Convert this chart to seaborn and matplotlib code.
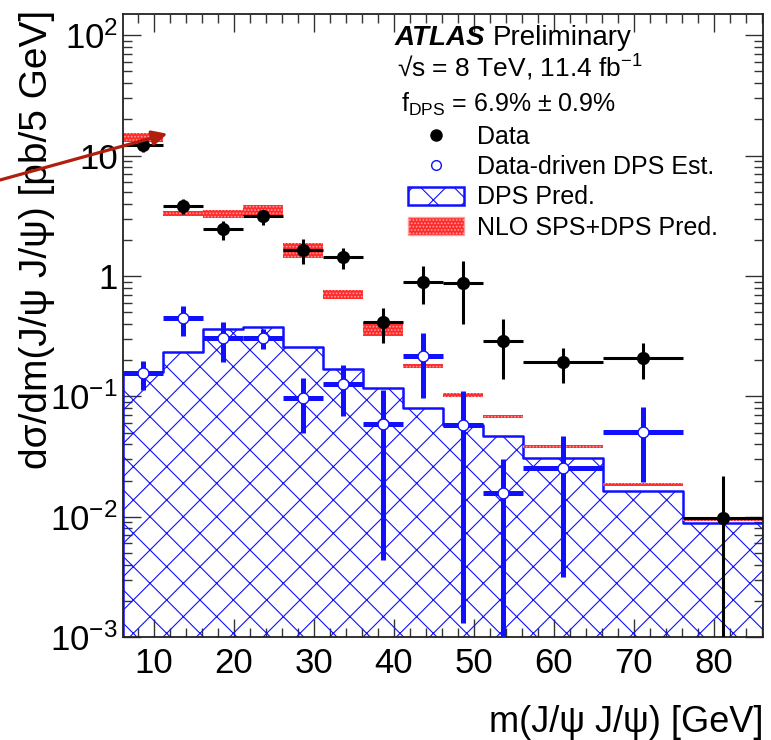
import matplotlib
matplotlib.use('Agg')
import matplotlib.pyplot as plt
import matplotlib.ticker as mticker
from matplotlib.lines import Line2D
from matplotlib.patches import Patch
import numpy as np
import seaborn as sns

# bin edges in m(J/psi J/psi) [GeV]
edges = [6.2, 11.2, 16.2, 21.2, 26.2, 31.2, 36.2, 41.2, 46.2, 51.2, 56.2, 66.2, 76.2, 86.2]

# data points
data_val = [12.2, 3.85, 2.46, 3.13, 1.66, 1.43, 0.414, 0.888, 0.878, 0.288, 0.193, 0.209, 0.00985]
data_hi = [13.1, 4.4, 2.85, 3.56, 2.03, 1.71, 0.545, 1.2, 1.33, 0.436, 0.254, 0.279, 0.0218]
data_lo = [10.8, 3.3, 2.0, 2.67, 1.25, 1.15, 0.279, 0.59, 0.403, 0.139, 0.130, 0.139, 1e-4]

# data-driven DPS estimate (no entry in last bin)
dd_val = [0.157, 0.444, 0.307, 0.307, 0.0975, 0.127, 0.0586, 0.216, 0.0574, 0.0158, 0.0253, 0.0509]
dd_hi = [0.196, 0.561, 0.414, 0.36, 0.143, 0.184, 0.114, 0.338, 0.111, 0.0304, 0.047, 0.082]
dd_lo = [0.114, 0.316, 0.193, 0.249, 0.050, 0.069, 0.0044, 0.0976, 0.0013, 1e-4, 0.00316, 0.0193]

# DPS prediction histogram
dps_pred = [0.159, 0.235, 0.36, 0.379, 0.257, 0.170, 0.118, 0.0795, 0.0574, 0.0469, 0.031, 0.0164, 0.00883]

# NLO SPS+DPS prediction band
nlo_lo = [13.1, 3.13, 3.04, 3.14, 1.41, 0.65, 0.32, 0.172, 0.0986, 0.0656, 0.037, 0.0180, 0.00923]
nlo_hi = [15.4, 3.45, 3.52, 3.92, 1.89, 0.76, 0.414, 0.185, 0.107, 0.0695, 0.0397, 0.0189, 0.00953]

ytick_vals = [1e-3, 1e-2, 1e-1, 1, 10, 100]
ytick_labels = ['$10^{-3}$', '$10^{-2}$', '$10^{-1}$', '1', '10', '$10^{2}$']
xtick_vals = [10, 20, 30, 40, 50, 60, 70, 80]

sns.set_style('ticks')
plt.rcParams['font.family'] = ['Liberation Sans', 'DejaVu Sans']
plt.rcParams['mathtext.fontset'] = 'custom'
plt.rcParams['mathtext.rm'] = 'Liberation Sans'
plt.rcParams['mathtext.it'] = 'Liberation Sans:italic'
plt.rcParams['mathtext.bf'] = 'Liberation Sans:bold'
plt.rcParams['hatch.linewidth'] = 0.8
plt.rcParams['text.color'] = 'black'
plt.rcParams['axes.labelcolor'] = 'black'
plt.rcParams['xtick.labelcolor'] = 'black'
plt.rcParams['ytick.labelcolor'] = 'black'

edges_a = np.array(edges)
centers = 0.5 * (edges_a[1:] + edges_a[:-1])
widths = np.diff(edges_a)
xerr = widths / 2

fig = plt.figure(figsize=(7.71, 7.40), dpi=100)
ax = fig.add_axes([0.160, 0.139, 0.830, 0.842])
ax.set_yscale('log')

# DPS prediction, hatched step histogram
sns.histplot(x=centers, weights=dps_pred, bins=edges, element='step', fill=True,
             color='#1010ff', facecolor='none', edgecolor='#1010ff', hatch='x',
             linewidth=1.8, ax=ax, zorder=1)

# NLO band
nlo_lo_a = np.array(nlo_lo)
nlo_hi_a = np.array(nlo_hi)
ax.bar(edges_a[:-1], nlo_hi_a - nlo_lo_a, bottom=nlo_lo_a, width=widths, align='edge',
       color='#ff2b2b', edgecolor='#ffa0a0', hatch='.....', linewidth=0, zorder=2)

# data-driven DPS estimate
ndd = len(dd_val)
dd_v = np.array(dd_val)
ax.errorbar(centers[:ndd], dd_v, xerr=xerr[:ndd],
            yerr=[dd_v - np.array(dd_lo), np.array(dd_hi) - dd_v],
            fmt='none', ecolor='#1010ff', elinewidth=3.6, capsize=0, zorder=3)
sns.scatterplot(x=centers[:ndd], y=dd_v, marker='o', s=60, facecolor='white',
                edgecolor='#1010ff', linewidth=1.0, ax=ax, zorder=4)

# data
d_v = np.array(data_val)
ax.errorbar(centers, d_v, xerr=xerr,
            yerr=[d_v - np.array(data_lo), np.array(data_hi) - d_v],
            fmt='none', ecolor='black', elinewidth=2.2, capsize=0, zorder=5)
sns.scatterplot(x=centers, y=d_v, marker='o', s=90, color='black', edgecolor='black',
                linewidth=0, ax=ax, zorder=6)

ax.set_xlim(6.2, 86.2)
ax.set_ylim(1e-3, 150)

ax.xaxis.set_major_locator(mticker.FixedLocator(xtick_vals))
ax.xaxis.set_minor_locator(mticker.MultipleLocator(2))
ax.yaxis.set_major_locator(mticker.FixedLocator(ytick_vals))
ax.yaxis.set_major_formatter(mticker.FixedFormatter(ytick_labels))
ax.yaxis.set_minor_locator(mticker.LogLocator(base=10, subs=np.arange(2, 10)))
ax.yaxis.set_minor_formatter(mticker.NullFormatter())

ax.tick_params(which='both', direction='in', top=True, right=True, color='#333333',
               width=1.0, labelcolor='black')
ax.tick_params(which='major', length=13)
ax.tick_params(which='minor', length=6.5)
ax.tick_params(axis='x', which='major', labelsize=25, pad=7)
ax.tick_params(axis='y', which='major', labelsize=25, pad=4)
for sp in ax.spines.values():
    sp.set_linewidth(1.3)
    sp.set_color('#222222')

ax.set_xlabel('m(J/ψ J/ψ) [GeV]', fontsize=26, loc='right', labelpad=18, color='black')
ax.set_ylabel('dσ/dm(J/ψ J/ψ) [pb/5 GeV]', fontsize=28, loc='top', color='black')
ax.yaxis.set_label_coords(-0.107, 1.006)

# labels
ax.text(0.424, 0.950, 'ATLAS', transform=ax.transAxes, fontsize=20,
        fontweight='bold', fontstyle='italic', va='baseline')
ax.text(0.577, 0.950, 'Preliminary', transform=ax.transAxes, fontsize=20, va='baseline')
ax.text(0.427, 0.899, '√s = 8 TeV, 11.4 fb$^{\\mathregular{-1}}$', transform=ax.transAxes,
        fontsize=19, va='baseline')
ax.text(0.434, 0.843, 'f$_{\\mathregular{DPS}}$ = 6.9% ± 0.9%', transform=ax.transAxes,
        fontsize=18, va='baseline')

handles = [
    Line2D([], [], marker='o', color='black', ls='none', ms=8),
    Line2D([], [], marker='o', mfc='white', mec='#1010ff', ls='none', ms=7, mew=1.0),
    Patch(facecolor='white', edgecolor='#1010ff', hatch='x', linewidth=1.8),
    Patch(facecolor='#ff2b2b', edgecolor='#ffa0a0', hatch='.....', linewidth=1.0),
]
labels = ['Data', 'Data-driven DPS Est.', 'DPS Pred.', 'NLO SPS+DPS Pred.']
leg = ax.legend(handles, labels, loc='upper left', bbox_to_anchor=(0.4447, 0.822),
                frameon=False, fontsize=18, handlelength=2.24, handleheight=0.76,
                handletextpad=0.52, labelspacing=0.25, borderaxespad=0, borderpad=0)
for t in leg.get_texts():
    t.set_color('black')

# arrow pointing at the first bin
ax.annotate('', xy=(11.7, 15.2), xycoords='data', xytext=(0.0, 1 - 180 / 740),
            textcoords='figure fraction',
            arrowprops=dict(arrowstyle='-|>,head_length=0.9,head_width=0.45',
                            color='#b01e0e', lw=2.3, shrinkA=0, shrinkB=0),
            annotation_clip=False, zorder=7)

fig.savefig('out.png', dpi=100)
